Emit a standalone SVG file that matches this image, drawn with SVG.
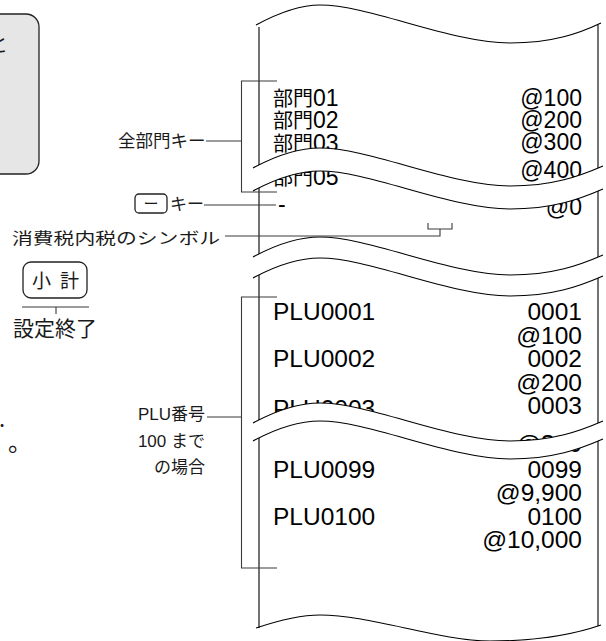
<svg xmlns="http://www.w3.org/2000/svg" width="606" height="641" viewBox="0 0 606 641">
<style>
.r{font-family:"Liberation Sans","Noto Sans CJK JP",sans-serif;font-size:24.5px;fill:#000}
.rd{font-size:23px}
.re{text-anchor:end}
.k{font-size:20px}
.l{font-family:"Noto Sans CJK JP",sans-serif;fill:#1a1a1a}
.la{font-family:"Liberation Sans","Noto Sans CJK JP",sans-serif;fill:#1a1a1a;font-size:17px;text-anchor:end}
.edge{fill:none;stroke:#000;stroke-width:1.1}
.band{fill:#fff;stroke:none}
.conn{fill:none;stroke:#3a3a3a;stroke-width:1.1}
.key{fill:#fff;stroke:#222;stroke-width:1.3}
</style>
<defs>
<path id="wave" d="M253,25 C277,12 300,5 320,5 C370,5 450,43 510,43 C553,43 580,33 603,23"/>
</defs>

<g id="panel">
<rect x="-20" y="14" width="59" height="160" rx="13" fill="#e6e6e6" stroke="#222" stroke-width="1.3"/>
<text class="l" x="-12" y="52" font-size="20">と</text>
</g>

<g id="receipt">
<path class="edge" d="M256,25 C280,12 300,5 320,5 C370,5 450,43 510,43 C553,43 580,33 601,23"/>
<path class="edge" d="M259,27 V628 M598,25 V626"/>
<path class="edge" d="M256,628 C280,620 300,615 320,615 C370,615 440,641 490,641 C540,641 575,634 601,625"/>
<g id="dept-rows">
<text class="r rd" x="273" y="106"><tspan class="k">部門</tspan>01</text><text class="r rd re" x="582" y="106">@100</text>
<text class="r rd" x="273" y="128"><tspan class="k">部門</tspan>02</text><text class="r rd re" x="582" y="128">@200</text>
<text class="r rd" x="273" y="151"><tspan class="k">部門</tspan>03</text><text class="r rd re" x="582" y="150">@300</text>
<text class="r rd" x="273" y="185"><tspan class="k">部門</tspan>05</text><text class="r rd re" x="582" y="178">@400</text>
<text class="r rd" x="278" y="212">-</text><text class="r rd re" x="582" y="215">@0</text>
</g>
<g id="plu-rows">
<text class="r" x="273" y="320">PLU0001</text><text class="r re" x="582" y="320">0001</text>
<text class="r re" x="582" y="344">@100</text>
<text class="r" x="273" y="367">PLU0002</text><text class="r re" x="582" y="367">0002</text>
<text class="r re" x="582" y="391">@200</text>
<text class="r" x="273" y="417">PLU0003</text><text class="r re" x="582" y="414">0003</text>
<text class="r re" x="582" y="452">@300</text>
<text class="r" x="273" y="478">PLU0099</text><text class="r re" x="582" y="478">0099</text>
<text class="r re" x="582" y="501">@9,900</text>
<text class="r" x="273" y="525">PLU0100</text><text class="r re" x="582" y="525">0100</text>
<text class="r re" x="582" y="548">@10,000</text>
</g>
</g>

<g id="break1">
<path class="band" d="M253,168 C277,155 300,148 320,148 C370,148 450,186 510,186 C553,186 580,176 603,166 L603,189 C580,199 553,209 510,209 C450,209 370,171 320,171 C300,171 277,178 253,191 Z"/>
<use href="#wave" class="edge" transform="translate(0,143)"/>
<use href="#wave" class="edge" transform="translate(0,166)"/>
</g>
<g id="break2">
<path class="band" d="M253,257 C277,244 300,237 320,237 C370,237 450,275 510,275 C553,275 580,265 603,255 L603,276 C580,286 553,296 510,296 C450,296 370,258 320,258 C300,258 277,265 253,278 Z"/>
<use href="#wave" class="edge" transform="translate(0,232)"/>
<use href="#wave" class="edge" transform="translate(0,253)"/>
</g>
<g id="break3">
<path class="band" d="M253,423 C277,410 300,403 320,403 C370,403 450,441 510,441 C553,441 580,431 603,421 L603,439 C580,449 553,459 510,459 C450,459 370,421 320,421 C300,421 277,428 253,441 Z"/>
<use href="#wave" class="edge" transform="translate(0,398)"/>
<use href="#wave" class="edge" transform="translate(0,416)"/>
</g>

<g id="label-dept">
<text class="l" x="118" y="147" font-size="17.5">全部門キー</text>
</g>
<g id="label-minus">
<rect class="key" x="135" y="194" width="32" height="19" rx="4"/>
<text class="l" x="151" y="209" font-size="15" text-anchor="middle">ー</text>
<text class="l" x="170" y="210" font-size="17">キー</text>
</g>
<g id="label-tax">
<text class="l" x="12" y="244" font-size="16" textLength="208" lengthAdjust="spacingAndGlyphs">消費税内税のシンボル</text>
</g>
<g id="label-subtotal">
<rect class="key" x="23" y="262" width="64" height="36" rx="8"/>
<text class="l" x="32" y="288" font-size="19" letter-spacing="9">小計</text>
<text class="l" x="13" y="336" font-size="21">設定終了</text>
</g>
<g id="label-plu">
<text class="la" x="205" y="420">PLU番号</text>
<text class="la" x="205" y="447">100 まで</text>
<text class="la" x="205" y="473">の場合</text>
</g>
<g id="left-fragments">
<text class="l" x="-1" y="427" font-size="22">.</text>
<text class="l" x="8" y="451" font-size="24">。</text>
</g>

<g id="connectors">
<path class="conn" d="M277,81 H241.5 V192 H277"/>
<path class="conn" d="M206,141 H241.5"/>
<path class="conn" d="M204,205 H276"/>
<path class="conn" d="M225,236 H440 V229 M428,223 V229 H452 V223"/>
<path class="conn" d="M22,307 H89 M56,307 V314"/>
<path class="conn" d="M277,297 H241.5 V568 H277"/>
<path class="conn" d="M207,417 H241.5"/>
</g>
</svg>
